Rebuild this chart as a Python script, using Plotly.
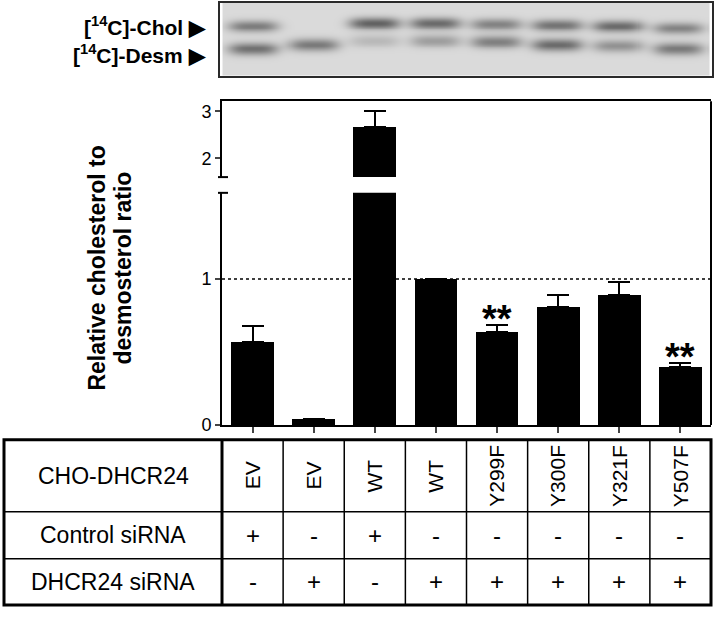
import numpy as np
import plotly.graph_objects as go

# ---------------- data ----------------
construct = ["EV", "EV", "WT", "WT", "Y299F", "Y300F", "Y321F", "Y507F"]
control_sirna = ["+", "-", "+", "-", "-", "-", "-", "-"]
dhcr24_sirna = ["-", "+", "-", "+", "+", "+", "+", "+"]
ratio = [0.57, 0.04, 2.67, 1.00, 0.64, 0.805, 0.888, 0.40]
ratio_err = [0.11, 0.0, 0.33, 0.0, 0.045, 0.083, 0.092, 0.026]
significant = ["", "", "", "", "**", "", "", "**"]
row_labels = ["CHO-DHCR24", "Control siRNA", "DHCR24 siRNA"]
y_title_lines = ["Relative cholesterol to", "desmosterol ratio"]

# blot band darkness and migration (rows from top of the film strip)
chol_intensity = [0.62, 0.0, 0.80, 0.74, 0.58, 0.68, 0.74, 0.58]
chol_pos = [27, 25, 24, 24, 25, 26, 27, 29]
desm_intensity = [0.70, 0.64, 0.22, 0.40, 0.60, 0.74, 0.48, 0.64]
desm_pos = [50, 46, 42, 42, 43, 46, 47, 50]

W, H = 717, 621
def py(p):
    return 1 - p / H
def px(p):
    return p / W

X0, X1 = 222, 711
lanes = list(range(len(construct)))

fig = go.Figure()

# ---------------- blot (heatmap) ----------------
gx = np.linspace(-0.5, 7.5, 480)
gy = np.linspace(3, 77, 150)
GX, GY = np.meshgrid(gx, gy)
Z = np.zeros_like(GX)
for i in lanes:
    hx = np.exp(-np.abs((GX - i) / 0.42) ** 3.5)
    Z += chol_intensity[i] * hx * np.exp(-((GY - chol_pos[i]) / 6.0) ** 2)
    Z += desm_intensity[i] * hx * np.exp(-((GY - desm_pos[i]) / 6.5) ** 2)
Z = np.clip(Z, 0, 1)
fig.add_trace(go.Heatmap(x=gx, y=gy, z=Z, xaxis="x3", yaxis="y3",
                         colorscale=[[0, "#dadada"], [1, "#444444"]],
                         zmin=0, zmax=1, showscale=False, hoverinfo="skip"))

# ---------------- bars ----------------
for xa, ya in (("x", "y"), ("x2", "y2")):
    fig.add_trace(go.Bar(x=lanes, y=ratio, xaxis=xa, yaxis=ya, width=0.70,
                         marker=dict(color="black", line=dict(width=0)),
                         error_y=dict(type="data", array=ratio_err,
                                      arrayminus=[0] * len(ratio), symmetric=False,
                                      color="black", thickness=2, width=11),
                         hoverinfo="skip"))

ann = []
for i, s in enumerate(significant):
    if s:
        ann.append(dict(x=i, y=ratio[i] + ratio_err[i], xref="x", yref="y",
                        text="<b>" + s + "</b>", showarrow=False, xanchor="center",
                        yanchor="bottom", yshift=-17,
                        font=dict(size=38, color="black", family="Arial")))

# y label (two lines)
for line, xc in zip(y_title_lines, (97, 123)):
    ann.append(dict(x=px(xc), y=py(273), xref="paper", yref="paper",
                    xanchor="center", yanchor="middle",
                    text="<b>" + line + "</b>",
                    textangle=-90, showarrow=False,
                    font=dict(size=23, color="black", family="Arial")))

# blot labels
for txt, yy in (("[<sup>14</sup>C]-Chol ▶", 26), ("[<sup>14</sup>C]-Desm ▶", 55)):
    ann.append(dict(x=px(208), y=py(yy), xref="paper", yref="paper",
                    xanchor="right", yanchor="middle",
                    text="<b>" + txt + "</b>", showarrow=False,
                    font=dict(size=21, color="black", family="Arial")))

# ---------------- table ----------------
T_TOP, R1, R2, T_BOT = 447, 520, 568, 615
row_centers = [(T_TOP + R1) / 2, (R1 + R2) / 2, (R2 + T_BOT) / 2]
for lbl, yc in zip(row_labels, row_centers):
    ann.append(dict(x=px((4 + X0) / 2), y=py(yc), xref="paper", yref="paper",
                    xanchor="center", yanchor="middle",
                    text=lbl, showarrow=False,
                    font=dict(size=23, color="black", family="Arial")))
for i in lanes:
    ann.append(dict(x=i, y=py(row_centers[0]), xref="x", yref="paper",
                    xanchor="center", yanchor="middle",
                    text=construct[i], textangle=-90, showarrow=False,
                    font=dict(size=21, color="black", family="Arial")))
    ann.append(dict(x=i, y=py(row_centers[1]), xref="x", yref="paper",
                    xanchor="center", yanchor="middle",
                    text=control_sirna[i], showarrow=False,
                    font=dict(size=24, color="black", family="Arial")))
    ann.append(dict(x=i, y=py(row_centers[2]), xref="x", yref="paper",
                    xanchor="center", yanchor="middle",
                    text=dhcr24_sirna[i], showarrow=False,
                    font=dict(size=24, color="black", family="Arial")))

shapes = []
# dotted reference line at 1
shapes.append(dict(type="line", xref="x domain", yref="y", x0=0, x1=1, y0=1, y1=1,
                   line=dict(color="black", width=1.6, dash="dot"), layer="below"))
# right frame line
shapes.append(dict(type="line", xref="x domain", yref="paper", x0=1, x1=1,
                   y0=py(432), y1=py(103), line=dict(color="black", width=2)))
# axis-break caps
for yy in (180, 196):
    shapes.append(dict(type="line", xref="paper", yref="paper", x0=px(X0 - 4), x1=px(X0 + 6),
                       y0=py(yy), y1=py(yy), line=dict(color="black", width=2)))
# table frame
shapes.append(dict(type="rect", xref="paper", yref="paper", x0=px(4), x1=px(X1),
                   y0=py(T_BOT), y1=py(T_TOP), line=dict(color="black", width=3)))
for yy in (R1, R2):
    shapes.append(dict(type="line", xref="paper", yref="paper", x0=px(4), x1=px(X1),
                       y0=py(yy), y1=py(yy), line=dict(color="black", width=1.5)))
n = len(lanes)
for k in range(0, n):
    shapes.append(dict(type="line", xref="x domain", yref="paper", x0=k / n, x1=k / n,
                       y0=py(T_BOT), y1=py(T_TOP),
                       line=dict(color="black", width=3 if k == 0 else 1.5)))

axis_common = dict(showgrid=False, zeroline=False, linecolor="black", linewidth=2)
fig.update_layout(
    width=W, height=H, margin=dict(l=0, r=0, t=0, b=0),
    paper_bgcolor="white", plot_bgcolor="white", showlegend=False, bargap=0,
    font=dict(family="Arial", color="black"),
    xaxis=dict(domain=[px(X0), px(X1)], range=[-0.5, 7.5], anchor="y",
               showline=True, ticks="outside", ticklen=6, tickwidth=2,
               tickvals=lanes, showticklabels=False, **axis_common),
    yaxis=dict(domain=[py(432), py(196)], range=[0, 1.59], anchor="x",
               showline=True, ticks="outside", ticklen=5, tickwidth=2,
               tickvals=[0, 1], tickfont=dict(size=18, color="black"), **axis_common),
    xaxis2=dict(domain=[px(X0), px(X1)], range=[-0.5, 7.5], anchor="y2", side="top",
                showline=True, ticks="", showticklabels=False, **axis_common),
    yaxis2=dict(domain=[py(180), py(103)], range=[1.6, 3.21], anchor="x2",
                showline=True, ticks="outside", ticklen=5, tickwidth=2,
                tickvals=[2, 3], tickfont=dict(size=18, color="black"), **axis_common),
    xaxis3=dict(domain=[px(220), px(712)], range=[-0.55, 7.55], anchor="y3",
                showline=True, mirror=True, linecolor="#2a2a2a", linewidth=2,
                showgrid=False, zeroline=False, ticks="", showticklabels=False),
    yaxis3=dict(domain=[py(77), py(3)], range=[77, 3], anchor="x3",
                showline=True, mirror=True, linecolor="#2a2a2a", linewidth=2,
                showgrid=False, zeroline=False, ticks="", showticklabels=False),
    annotations=ann, shapes=shapes,
)

fig.write_html("out.html", config={"displayModeBar": False, "staticPlot": True},
               post_script="document.body.style.margin='0';document.body.style.overflow='hidden';")
